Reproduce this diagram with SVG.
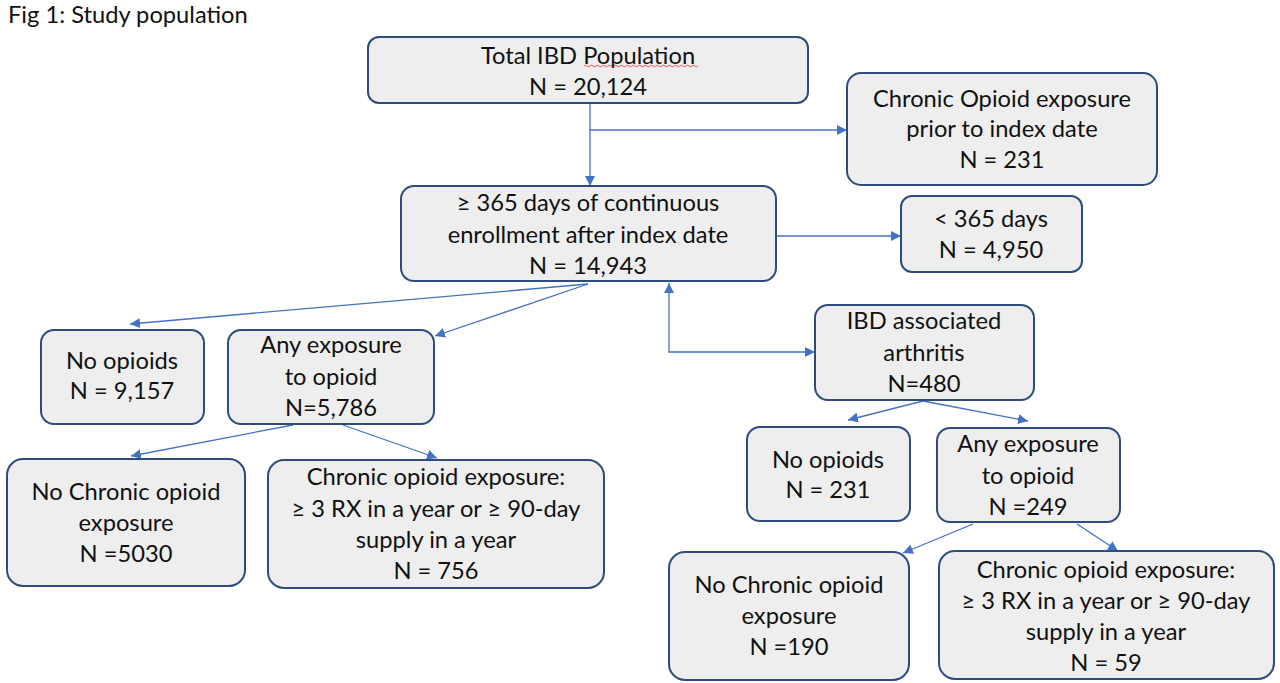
<svg xmlns="http://www.w3.org/2000/svg" width="1280" height="683" viewBox="0 0 1280 683">
<style>
.box{fill:#eeeeee;stroke:#2f4c7e;stroke-width:2}
.t{font-family:Lato,"Open Sans",sans-serif;font-size:23.7px;fill:#111;text-anchor:middle}
.c{fill:none;stroke:#4472c4;stroke-width:1.3}
</style>
<defs>
<marker id="ah" viewBox="0 0 10 10" refX="10" refY="5" markerWidth="10" markerHeight="10" markerUnits="userSpaceOnUse" orient="auto-start-reverse">
<path d="M0,0 L10,5 L0,10 z" fill="#4472c4"/>
</marker>
</defs>
<rect width="1280" height="683" fill="#ffffff"/>
<text x="8" y="23" style="font-family:Lato,'Open Sans',sans-serif;font-size:23.7px;fill:#111">Fig 1: Study population</text>

<g id="connectors">
<path class="c" d="M590,103 V186" marker-end="url(#ah)"/>
<path class="c" d="M590,130 H847" marker-end="url(#ah)"/>
<path class="c" d="M776,236 H901" marker-end="url(#ah)"/>
<path class="c" d="M588,284 L130,324" marker-end="url(#ah)"/>
<path class="c" d="M588,284 L435,336" marker-end="url(#ah)"/>
<path class="c" d="M669,283 V352 H815" marker-start="url(#ah)" marker-end="url(#ah)"/>
<path class="c" d="M293,425 L131,456" marker-end="url(#ah)"/>
<path class="c" d="M343,425 L437,458" marker-end="url(#ah)"/>
<path class="c" d="M923,401 L848,420" marker-end="url(#ah)"/>
<path class="c" d="M923,401 L1028,421" marker-end="url(#ah)"/>
<path class="c" d="M973,524 L903,553" marker-end="url(#ah)"/>
<path class="c" d="M1077,524 L1118,551" marker-end="url(#ah)"/>
</g>

<g id="n1">
<rect class="box" x="368" y="37" width="440" height="66" rx="11"/>
<text class="t" x="588" y="64">Total IBD Population</text>
<path d="M584,66 q1.5,-1.5 3,0 t3,0 t3,0 t3,0 t3,0 t3,0 t3,0 t3,0 t3,0 t3,0 t3,0 t3,0 t3,0 t3,0 t3,0 t3,0 t3,0 t3,0 t3,0 t3,0 t3,0 t3,0 t3,0 t3,0 t3,0 t3,0 t3,0 t3,0 t3,0 t3,0 t3,0 t3,0 t3,0 t3,0 t3,0 t3,0 t3,0 t3,0" fill="none" stroke="#e03030" stroke-width="0.8"/>
<text class="t" x="588" y="95">N = 20,124</text>
</g>

<g id="n2">
<rect class="box" x="847" y="73" width="310" height="112" rx="14"/>
<text class="t" x="1002" y="107">Chronic Opioid exposure</text>
<text class="t" x="1002" y="137">prior to index date</text>
<text class="t" x="1002" y="168">N = 231</text>
</g>

<g id="n3">
<rect class="box" x="401" y="186" width="375" height="95" rx="13"/>
<text class="t" x="588" y="211">≥ 365 days of continuous</text>
<text class="t" x="588" y="243">enrollment after index date</text>
<text class="t" x="588" y="274">N = 14,943</text>
</g>

<g id="n4">
<rect class="box" x="901" y="196" width="181" height="76" rx="11"/>
<text class="t" x="991" y="227">&lt; 365 days</text>
<text class="t" x="991" y="258">N = 4,950</text>
</g>

<g id="n5">
<rect class="box" x="41" y="330" width="163" height="94" rx="13"/>
<text class="t" x="122" y="369">No opioids</text>
<text class="t" x="122" y="399">N = 9,157</text>
</g>

<g id="n6">
<rect class="box" x="228" y="330" width="206" height="94" rx="13"/>
<text class="t" x="331" y="353">Any exposure</text>
<text class="t" x="331" y="385">to opioid</text>
<text class="t" x="331" y="416">N=5,786</text>
</g>

<g id="n7">
<rect class="box" x="815" y="305" width="219" height="95" rx="13"/>
<text class="t" x="924" y="329">IBD associated</text>
<text class="t" x="924" y="361">arthritis</text>
<text class="t" x="924" y="392">N=480</text>
</g>

<g id="n8">
<rect class="box" x="7" y="459" width="238" height="127" rx="16"/>
<text class="t" x="126" y="500">No Chronic opioid</text>
<text class="t" x="126" y="531">exposure</text>
<text class="t" x="126" y="562">N =5030</text>
</g>

<g id="n9">
<rect class="box" x="268" y="460" width="336" height="128" rx="16"/>
<text class="t" x="436" y="485">Chronic opioid exposure:</text>
<text class="t" x="436" y="517">≥ 3 RX in a year or ≥ 90-day</text>
<text class="t" x="436" y="548">supply in a year</text>
<text class="t" x="436" y="579">N = 756</text>
</g>

<g id="n10">
<rect class="box" x="747" y="427" width="163" height="94" rx="13"/>
<text class="t" x="828" y="468">No opioids</text>
<text class="t" x="828" y="498">N = 231</text>
</g>

<g id="n11">
<rect class="box" x="937" y="428" width="183" height="94" rx="13"/>
<text class="t" x="1028" y="452">Any exposure</text>
<text class="t" x="1028" y="484">to opioid</text>
<text class="t" x="1028" y="515">N =249</text>
</g>

<g id="n12">
<rect class="box" x="669" y="552" width="240" height="128" rx="16"/>
<text class="t" x="789" y="593">No Chronic opioid</text>
<text class="t" x="789" y="624">exposure</text>
<text class="t" x="789" y="655">N =190</text>
</g>

<g id="n13">
<rect class="box" x="939" y="551" width="335" height="128" rx="16"/>
<text class="t" x="1106" y="578">Chronic opioid exposure:</text>
<text class="t" x="1106" y="609">≥ 3 RX in a year or ≥ 90-day</text>
<text class="t" x="1106" y="640">supply in a year</text>
<text class="t" x="1106" y="671">N = 59</text>
</g>
</svg>
